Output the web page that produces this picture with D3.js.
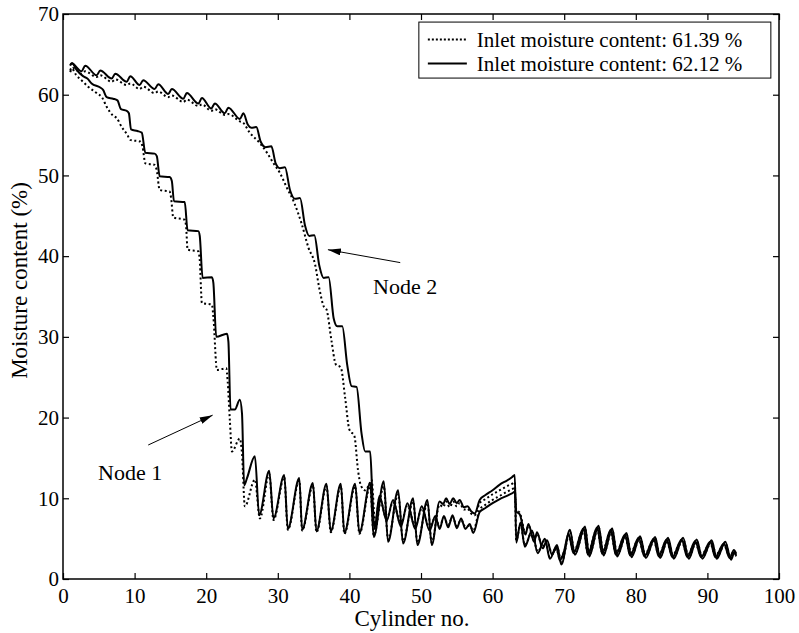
<!DOCTYPE html>
<html>
<head>
<meta charset="utf-8">
<script src="https://cdn.jsdelivr.net/npm/d3@7"></script>
<style>
  html, body { margin: 0; padding: 0; background: #fff; }
  svg { display: block; }
  text { font-family: "Liberation Serif", "Times New Roman", serif; fill: #000; }
</style>
</head>
<body>
<div id="chart"></div>
<script>
// ---------- data (cylinder no., moisture content %) ----------
const xTicks = [0, 10, 20, 30, 40, 50, 60, 70, 80, 90, 100];
const yTicks = [0, 10, 20, 30, 40, 50, 60, 70];
const legendLabels = ["Inlet moisture content: 61.39 %", "Inlet moisture content: 62.12 %"];

// Node 1, inlet 62.12 % (solid)
const node1Solid = [[1.0,63.7],[1.3,63.9],[1.8,63.2],[2.8,62.3],[3.4,62.0],[4.0,61.4],[5.2,60.9],[5.6,60.6],[6.1,59.7],[7.0,59.5],[7.6,59.3],[8.1,58.2],[8.9,58.0],[9.2,57.7],[9.5,55.7],[10.4,55.5],[11.0,55.3],[11.5,52.8],[12.8,52.7],[13.1,52.4],[13.5,49.9],[14.9,49.8],[15.2,49.3],[15.5,46.8],[17.0,46.7],[17.4,43.2],[18.9,43.1],[19.1,42.5],[19.5,37.3],[20.8,37.4],[21.0,36.7],[21.4,30.0],[22.9,30.4],[23.1,29.4],[23.4,21.0],[24.0,21.0],[24.7,22.2],[25.0,20.5],[25.3,11.6],[25.7,12.5],[26.8,15.2],[27.4,7.9],[28.8,13.4],[29.4,7.5],[30.9,12.9],[31.4,6.2],[33.0,12.5],[33.4,6.1],[34.9,11.9],[35.4,5.9],[36.8,11.8],[37.4,5.9],[38.8,11.8],[39.3,5.7],[40.8,11.8],[41.4,5.7],[42.9,11.9],[43.4,5.2],[44.8,12.1],[45.4,4.6],[46.8,11.0],[47.5,4.4],[48.9,10.0],[49.5,4.2],[50.9,9.8],[51.5,4.2],[52.6,9.6],[53.1,9.3],[53.5,10.0],[54.0,9.3],[54.5,10.0],[55.0,9.4],[55.4,9.8],[56.0,8.9],[56.5,9.0],[57.0,8.4],[57.5,8.1],[58.2,9.8],[59.0,10.4],[60.0,11.0],[61.0,11.7],[62.0,12.2],[62.7,12.6],[63.1,12.9],[63.3,4.5],[63.9,7.0],[64.5,4.0],[65.5,6.0],[66.3,3.2],[67.3,5.0],[68.0,2.5],[69.0,4.2],[69.6,1.8],[70.8,6.1],[71.5,3.0],[72.9,6.5],[73.5,2.8],[74.8,6.6],[75.5,2.9],[76.7,6.3],[77.4,2.8],[78.7,5.7],[79.4,2.7],[80.6,5.3],[81.4,2.6],[82.7,5.2],[83.4,2.6],[84.5,5.1],[85.3,2.5],[86.6,5.1],[87.4,2.5],[88.5,4.9],[89.3,2.5],[90.6,4.8],[91.3,2.5],[92.5,4.6],[93.3,2.4],[93.8,3.4],[94.0,2.9]];

// Node 1, inlet 61.39 % (dotted)
const node1Dotted = [[1.0,63.0],[1.2,63.3],[1.8,62.5],[2.8,61.6],[3.5,61.0],[4.7,60.2],[5.5,59.6],[6.1,58.5],[7.0,57.4],[7.5,57.1],[8.2,56.0],[9.0,55.0],[9.4,54.4],[10.8,54.2],[11.1,53.6],[11.5,51.5],[12.8,51.3],[13.1,50.6],[13.5,48.2],[14.9,48.0],[15.1,47.2],[15.4,44.8],[17.0,44.5],[17.2,43.6],[17.4,40.8],[18.9,40.6],[19.1,39.5],[19.4,34.2],[20.8,34.0],[21.0,32.5],[21.5,25.9],[22.8,26.1],[23.0,24.5],[23.3,19.7],[23.6,15.8],[24.7,17.4],[25.0,15.5],[25.4,9.0],[26.8,12.3],[27.5,7.5],[28.8,13.0],[29.4,7.3],[30.9,12.6],[31.4,6.1],[33.0,12.2],[33.4,6.0],[34.9,11.6],[35.4,5.8],[36.8,11.5],[37.4,5.8],[38.8,11.5],[39.3,5.6],[40.8,11.5],[41.4,5.6],[42.9,11.5],[43.4,5.4],[44.8,11.5],[45.4,4.9],[46.8,10.5],[47.5,4.7],[48.9,9.6],[49.5,4.5],[50.9,9.4],[51.5,4.5],[52.6,9.2],[53.1,8.9],[53.5,9.6],[54.0,8.9],[54.5,9.6],[55.0,9.0],[55.4,9.4],[56.0,8.6],[56.5,8.7],[57.0,8.1],[57.5,7.9],[58.2,9.4],[59.0,9.9],[60.0,10.5],[61.0,11.0],[62.0,11.5],[62.7,11.8],[63.1,12.0],[63.3,4.8],[63.9,6.8],[64.5,4.2],[65.5,5.8],[66.3,3.4],[67.3,4.8],[68.0,2.7],[69.0,4.0],[69.6,2.0],[70.8,5.8],[71.5,3.2],[72.9,6.3],[73.5,3.0],[74.8,6.4],[75.5,3.1],[76.7,6.1],[77.4,3.0],[78.7,5.5],[79.4,2.9],[80.6,5.1],[81.4,2.8],[82.7,5.0],[83.4,2.8],[84.5,4.9],[85.3,2.7],[86.6,4.9],[87.4,2.7],[88.5,4.7],[89.3,2.7],[90.6,4.6],[91.3,2.7],[92.5,4.4],[93.3,2.6],[93.8,3.2],[94.0,2.8]];

// Node 2, inlet 62.12 % (solid)
const node2Solid = [[1.0,63.6],[1.2,63.9],[2.6,62.9],[3.1,63.6],[4.7,62.4],[5.2,63.0],[6.8,62.0],[7.3,62.6],[8.9,61.6],[9.4,62.3],[10.7,61.2],[11.2,61.8],[12.8,60.7],[13.3,61.3],[14.7,60.1],[15.2,60.7],[16.8,59.5],[17.3,60.2],[18.9,58.9],[19.4,59.6],[20.7,58.3],[21.2,58.9],[22.6,57.7],[23.1,58.4],[24.7,57.0],[25.2,57.7],[25.8,56.3],[26.3,55.9],[27.0,56.0],[27.6,54.2],[28.3,53.5],[29.1,53.6],[29.7,51.5],[30.3,50.9],[31.0,51.0],[31.7,48.2],[32.4,47.1],[33.1,47.2],[33.8,43.8],[34.4,42.5],[35.1,42.6],[35.8,38.8],[36.4,37.3],[37.1,37.4],[37.8,32.3],[38.3,31.3],[39.0,31.3],[39.7,26.5],[40.3,23.9],[41.0,23.8],[41.7,18.0],[42.2,15.8],[42.9,15.8],[43.2,10.5],[43.5,6.2],[44.2,10.3],[45.2,7.2],[46.1,9.8],[47.2,6.5],[48.1,9.4],[49.2,6.2],[50.1,9.0],[51.2,6.0],[52.0,7.8],[52.6,6.2],[53.2,7.8],[53.8,6.4],[54.4,7.9],[55.0,6.3],[55.6,7.5],[56.2,6.2],[56.8,6.8],[57.3,5.7],[58.2,8.3],[59.0,8.8],[60.0,9.4],[61.0,9.9],[62.0,10.3],[62.7,10.6],[63.1,10.8],[63.3,8.4],[63.8,8.0],[64.6,5.5],[65.0,6.8],[65.8,4.6],[66.2,5.8],[67.0,3.8],[67.6,4.8],[68.3,3.0],[68.9,3.9],[69.4,2.3],[70.0,3.5],[70.6,5.6],[71.3,3.2],[72.7,6.3],[73.3,3.0],[74.6,6.4],[75.3,3.1],[76.5,6.1],[77.2,3.0],[78.5,5.5],[79.2,2.9],[80.4,5.1],[81.2,2.8],[82.5,5.0],[83.2,2.8],[84.3,4.9],[85.1,2.7],[86.4,4.9],[87.2,2.7],[88.3,4.7],[89.1,2.7],[90.4,4.6],[91.1,2.7],[92.3,4.4],[93.1,2.6],[93.7,3.6],[94.0,3.2]];

// Node 2, inlet 61.39 % (dotted)
const node2Dotted = [[1.0,62.8],[1.4,63.3],[2.6,62.6],[3.1,62.9],[4.7,62.2],[5.2,62.4],[6.8,61.6],[7.3,61.9],[8.9,61.2],[9.4,61.4],[10.7,60.7],[11.2,61.0],[12.8,60.2],[13.3,60.4],[14.7,59.7],[15.2,59.9],[16.8,59.1],[17.3,59.4],[18.9,58.6],[19.4,58.8],[20.7,58.0],[21.2,58.2],[22.6,57.5],[23.1,57.6],[24.7,56.7],[25.2,56.5],[26.0,55.4],[27.5,54.0],[28.5,52.8],[29.4,51.5],[30.3,50.3],[31.2,48.6],[32.3,46.6],[33.3,44.1],[34.3,41.0],[35.2,39.0],[35.8,36.0],[36.4,33.8],[36.8,33.4],[37.5,29.5],[38.1,26.6],[38.8,26.2],[39.4,22.5],[40.0,18.5],[40.7,17.7],[41.2,13.5],[41.6,11.6],[42.2,11.0],[42.7,11.6],[43.1,12.3],[43.6,6.8],[44.2,10.0],[45.2,7.5],[46.1,9.5],[47.2,6.8],[48.1,9.1],[49.2,6.5],[50.1,8.7],[51.2,6.3],[52.0,7.6],[52.6,6.5],[53.2,7.6],[53.8,6.7],[54.4,7.7],[55.0,6.6],[55.6,7.3],[56.2,6.5],[56.8,6.6],[57.3,6.0],[58.2,8.6],[59.0,9.2],[60.0,9.8],[61.0,10.3],[62.0,10.8],[62.7,11.1],[63.1,11.3],[63.3,8.6],[63.8,8.2],[64.6,5.7],[65.0,6.6],[65.8,4.8],[66.2,5.6],[67.0,4.0],[67.6,4.6],[68.3,3.2],[68.9,3.7],[69.4,2.5],[70.0,3.4],[70.6,5.4],[71.3,3.4],[72.7,6.1],[73.3,3.2],[74.6,6.2],[75.3,3.3],[76.5,5.9],[77.2,3.2],[78.5,5.3],[79.2,3.1],[80.4,4.9],[81.2,3.0],[82.5,4.8],[83.2,3.0],[84.3,4.7],[85.1,2.9],[86.4,4.7],[87.2,2.9],[88.3,4.5],[89.1,2.9],[90.4,4.4],[91.1,2.9],[92.3,4.2],[93.1,2.8],[93.7,3.4],[94.0,3.0]];

// annotations: label text, label anchor, arrow tail, arrow tip (data units)
const annotationLabels = ["Node 1", "Node 2"];
const annotationText = [[4.9, 12.3], [43.3, 35.3]];
const annotationTail = [[11.9, 16.6], [47.1, 39.2]];
const annotationTip = [[20.9, 20.3], [37.0, 40.8]];

// ---------- drawing ----------
const W = 799, H = 633;
const margin = { left: 63, right: 20, top: 14, bottom: 54 };
const iw = W - margin.left - margin.right;
const ih = H - margin.top - margin.bottom;

const svg = d3.select("#chart").append("svg").attr("width", W).attr("height", H);
const g = svg.append("g").attr("transform", `translate(${margin.left},${margin.top})`);

const x = d3.scaleLinear().domain([0, 100]).range([0, iw]);
const y = d3.scaleLinear().domain([0, 70]).range([ih, 0]);

const FS = 21;
const tick = 6;

// axes with inward ticks
const xAxis = g.append("g").attr("transform", `translate(0,${ih})`)
  .call(d3.axisBottom(x).tickValues(xTicks).tickSizeInner(-tick).tickSizeOuter(0).tickPadding(9).tickFormat(d3.format("d")));
const yAxis = g.append("g")
  .call(d3.axisLeft(y).tickValues(yTicks).tickSizeInner(-tick).tickSizeOuter(0).tickPadding(4).tickFormat(d3.format("d")));
const xTop = g.append("g")
  .call(d3.axisTop(x).tickValues(xTicks).tickSizeInner(-tick).tickSizeOuter(0).tickFormat(""));
const yRight = g.append("g").attr("transform", `translate(${iw},0)`)
  .call(d3.axisRight(y).tickValues(yTicks).tickSizeInner(-tick).tickSizeOuter(0).tickFormat(""));

[xAxis, yAxis, xTop, yRight].forEach(a => {
  a.select(".domain").remove();
  a.selectAll(".tick line").attr("stroke", "#000").attr("stroke-width", 1.2);
  a.selectAll(".tick text").attr("font-size", FS).attr("font-family", '"Liberation Serif", "Times New Roman", serif').attr("fill", "#000");
});

g.append("rect").attr("x", 0).attr("y", 0).attr("width", iw).attr("height", ih)
  .attr("fill", "none").attr("stroke", "#000").attr("stroke-width", 1.5);

// lines
const line = d3.line().x(d => x(d[0])).y(d => y(d[1])).curve(d3.curveMonotoneX);
const series = [
  { data: node1Dotted, dash: "2,2.6" },
  { data: node2Dotted, dash: "2,2.6" },
  { data: node1Solid, dash: null },
  { data: node2Solid, dash: null }
];
series.forEach(s => {
  g.append("path").datum(s.data).attr("d", line)
    .attr("fill", "none").attr("stroke", "#000").attr("stroke-width", 2)
    .attr("stroke-linejoin", "round")
    .attr("stroke-dasharray", s.dash);
});

// annotations
svg.append("defs").append("marker").attr("id", "arrow")
  .attr("viewBox", "0 0 13 7").attr("refX", 13).attr("refY", 3.5)
  .attr("markerWidth", 13).attr("markerHeight", 7).attr("markerUnits", "userSpaceOnUse")
  .attr("orient", "auto")
  .append("path").attr("d", "M0,0 L13,3.5 L0,7 Z").attr("fill", "#000");

annotationLabels.forEach((lab, i) => {
  g.append("line")
    .attr("x1", x(annotationTail[i][0])).attr("y1", y(annotationTail[i][1]))
    .attr("x2", x(annotationTip[i][0])).attr("y2", y(annotationTip[i][1]))
    .attr("stroke", "#000").attr("stroke-width", 1).attr("marker-end", "url(#arrow)");
  g.append("text").attr("x", x(annotationText[i][0])).attr("y", y(annotationText[i][1]))
    .attr("font-size", 22).text(lab);
});

// legend
const lg = g.append("g").attr("transform", `translate(${x(49.7)},${y(69.0)})`);
lg.append("rect").attr("x", 0).attr("y", 0).attr("width", 352).attr("height", 56)
  .attr("fill", "#fff").attr("stroke", "#000").attr("stroke-width", 1);
const legendDash = ["2,2", null];
legendLabels.forEach((lab, i) => {
  const yy = 17.5 + i * 24;
  lg.append("line").attr("x1", 9).attr("x2", 48).attr("y1", yy).attr("y2", yy)
    .attr("stroke", "#000").attr("stroke-width", 2).attr("stroke-dasharray", legendDash[i]);
  lg.append("text").attr("x", 58).attr("y", yy + 7).attr("font-size", FS).text(lab);
});

// axis titles
svg.append("text").attr("x", margin.left + iw / 2 - 9).attr("y", H - 7)
  .attr("text-anchor", "middle").attr("font-size", 23).text("Cylinder no.");
svg.append("text").attr("transform", `translate(27,${margin.top + ih / 2 - 16}) rotate(-90)`)
  .attr("text-anchor", "middle").attr("font-size", 23).text("Moisture content (%)");
</script>
</body>
</html>
